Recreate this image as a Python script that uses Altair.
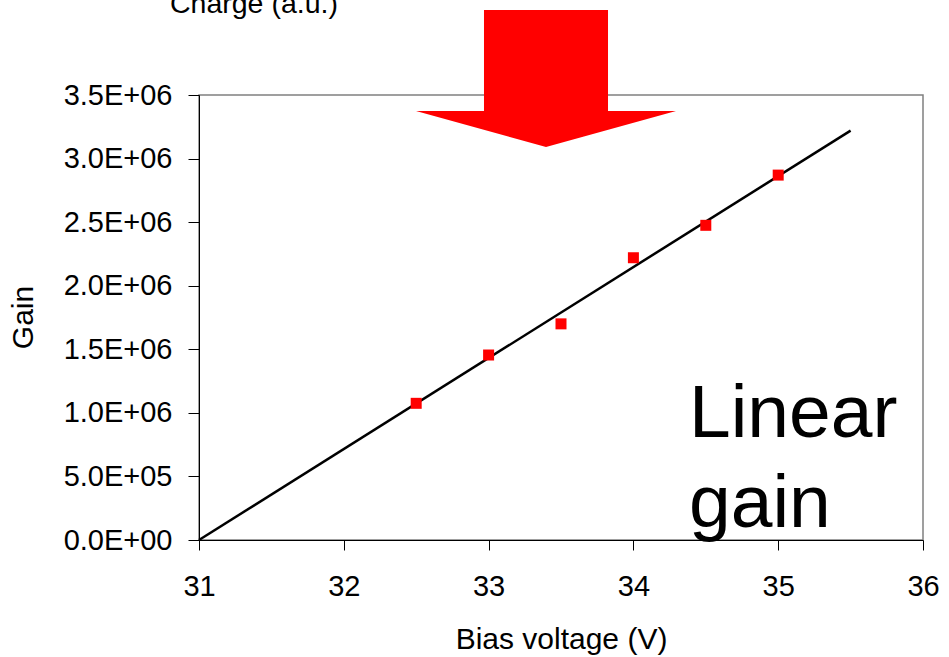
import altair as alt
import pandas as pd

# Measured gain versus bias voltage
voltage = [32.5, 33.0, 33.5, 34.0, 34.5, 35.0]
gain = [1.075e6, 1.455e6, 1.70e6, 2.22e6, 2.475e6, 2.87e6]

# Straight-line fit end points
fit_voltage = [31.0, 35.5]
fit_gain = [0.0, 3.22e6]

x_ticks = [31, 32, 33, 34, 35, 36]
y_ticks = [0, 5e5, 1e6, 1.5e6, 2e6, 2.5e6, 3e6, 3.5e6]

FONT = "Liberation Sans"
RED = "#FF0000"

points = pd.DataFrame({"voltage": voltage, "gain": gain})
fit = pd.DataFrame({"voltage": fit_voltage, "gain": fit_gain})
one = pd.DataFrame({"k": [0]})

x_scale = alt.Scale(domain=[31, 36], nice=False, zero=False)
y_scale = alt.Scale(domain=[0, 3.5e6], nice=False)

x_axis = alt.Axis(
    values=x_ticks, format="d", title="Bias voltage (V)",
    tickSize=10, labelPadding=45, labelBaseline="alphabetic",
    labelFlush=False, labelOverlap=False,
    titleX=362, titleY=108, titleBaseline="alphabetic",
)
y_axis = alt.Axis(
    values=y_ticks, title="Gain",
    labelExpr="replace(format(datum.value, '.1e'), 'e+', 'E+0')",
    tickSize=11, labelPadding=16, labelFlush=False, labelOverlap=False,
    titleX=-167, titleY=222, titleBaseline="alphabetic", titleAngle=-90,
)

line = alt.Chart(fit).mark_line(color="black", strokeWidth=2.5).encode(
    x=alt.X("voltage:Q", scale=x_scale, axis=x_axis),
    y=alt.Y("gain:Q", scale=y_scale, axis=y_axis),
)

dots = alt.Chart(points).mark_square(size=121, color=RED, opacity=1, filled=True).encode(
    x=alt.X("voltage:Q", scale=x_scale),
    y=alt.Y("gain:Q", scale=y_scale),
)

# Big downward arrow drawn as a filled custom symbol
arrow_path = ("M-0.477,-0.527 L0.477,-0.527 L0.477,0.25 L1,0.25 "
              "L0,0.527 L-1,0.25 L-0.477,0.25 Z")
arrow = alt.Chart(one).mark_point(
    shape=arrow_path, size=67600, filled=True, color=RED, opacity=1, strokeWidth=0
).encode(x=alt.value(347), y=alt.value(-16.5))

charge_label = alt.Chart(one).mark_text(
    text="Charge (a.u.)", font=FONT, fontSize=28.5, align="left",
    baseline="alphabetic", color="black"
).encode(x=alt.value(-29), y=alt.value(-82))

linear_label = alt.Chart(one).mark_text(
    text=["Linear", "gain"], font=FONT, fontSize=75, align="left",
    baseline="alphabetic", lineHeight=90, color="black"
).encode(x=alt.value(490), y=alt.value(342))

chart = alt.layer(line, dots, arrow, charge_label, linear_label).properties(
    width=724, height=445,
    autosize=alt.AutoSizeParams(type="none"),
    padding={"left": 199, "top": 95, "right": 26, "bottom": 117},
    background="white",
).configure_view(
    stroke="#808080", strokeWidth=1.5
).configure_axis(
    grid=False, domainColor="black", domainWidth=1, tickColor="black", tickWidth=1,
    labelFont=FONT, labelFontSize=29, labelColor="black",
    titleFont=FONT, titleFontSize=30, titleColor="black", titleFontWeight="normal",
)

chart.save("out.html", embed_options={"renderer": "svg", "actions": False})
